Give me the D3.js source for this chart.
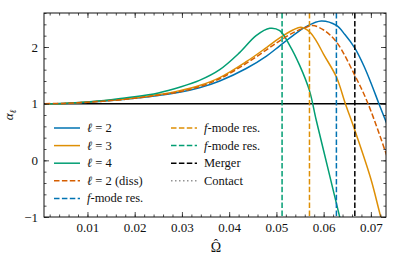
<!DOCTYPE html>
<html>
<head>
<meta charset="utf-8">
<script src="https://cdn.jsdelivr.net/npm/d3@7"></script>
<style>
  body { margin: 0; background: #fff; }
  text { font-family: "Liberation Serif", "DejaVu Serif", serif; fill: #111; }
</style>
</head>
<body>
<div class="chart"></div>
<script>
// data
var omegaL2 = [0.001, 0.005, 0.01, 0.015, 0.02, 0.025, 0.0295, 0.0337, 0.038, 0.0436, 0.0479, 0.0507, 0.0535, 0.0563, 0.0595, 0.0627, 0.0645, 0.0666, 0.0685, 0.07, 0.0717, 0.0735];
var alphaL2 = [1.0, 1.005, 1.025, 1.055, 1.095, 1.145, 1.2, 1.28, 1.4, 1.62, 1.84, 2.02, 2.2, 2.36, 2.46, 2.38, 2.22, 1.98, 1.67, 1.37, 1.0, 0.62];

var omegaL3 = [0.001, 0.005, 0.01, 0.015, 0.02, 0.025, 0.0295, 0.0337, 0.038, 0.0436, 0.0479, 0.0507, 0.0535, 0.0552, 0.057, 0.0585, 0.06, 0.0627, 0.0646, 0.0666, 0.07, 0.0721, 0.074];
var alphaL3 = [1.0, 1.005, 1.03, 1.06, 1.1, 1.16, 1.23, 1.32, 1.46, 1.74, 1.99, 2.16, 2.3, 2.35, 2.27, 2.1, 1.87, 1.47, 1.0, 0.53, -0.33, -1.0, -1.55];

var omegaL4 = [0.001, 0.005, 0.01, 0.015, 0.02, 0.025, 0.0295, 0.0337, 0.038, 0.0422, 0.0457, 0.0486, 0.0507, 0.0528, 0.0549, 0.057, 0.0584, 0.06, 0.0627, 0.0634, 0.065];
var alphaL4 = [1.0, 1.005, 1.03, 1.07, 1.12, 1.19, 1.29, 1.41, 1.6, 1.9, 2.2, 2.33, 2.29, 2.03, 1.68, 1.23, 0.72, 0.17, -0.76, -1.0, -1.55];

var omegaDiss = [0.001, 0.005, 0.01, 0.015, 0.02, 0.025, 0.0295, 0.0337, 0.038, 0.0436, 0.0479, 0.0507, 0.0535, 0.0563, 0.0577, 0.06, 0.0627, 0.0666, 0.0694, 0.0735];
var alphaDiss = [1.0, 1.005, 1.025, 1.055, 1.095, 1.15, 1.21, 1.3, 1.44, 1.71, 1.95, 2.11, 2.25, 2.35, 2.38, 2.3, 2.09, 1.5, 1.0, 0.05];

var fmodeL2 = 0.0627, fmodeL3 = 0.057, fmodeL4 = 0.0512, mergerOmega = 0.0666;

var xTicks = [0.01, 0.02, 0.03, 0.04, 0.05, 0.06, 0.07];
var yTicks = [-1, 0, 1, 2];

var svgWidth = 407, svgHeight = 255;
var margin = {top: 13, right: 21, bottom: 38, left: 44};
var width = svgWidth - margin.left - margin.right;
var height = svgHeight - margin.top - margin.bottom;

var col = {blue: "#0173B2", orange: "#DE8F05", green: "#029E73", red: "#D55E00", gray: "#949494"};

var svg = d3.select(".chart").append("svg")
  .attr("width", svgWidth).attr("height", svgHeight);

var chartGroup = svg.append("g")
  .attr("transform", `translate(${margin.left}, ${margin.top})`);

var x = d3.scaleLinear().domain([0.0008, 0.0732]).range([0, width]);
var y = d3.scaleLinear().domain([-1, 2.6]).range([height, 0]);

chartGroup.append("clipPath").attr("id", "clip")
  .append("rect").attr("width", width).attr("height", height);

var plot = chartGroup.append("g").attr("clip-path", "url(#clip)");

// horizontal line at 1
plot.append("line")
  .attr("x1", 0).attr("x2", width)
  .attr("y1", y(1)).attr("y2", y(1))
  .attr("stroke", "#000").attr("stroke-width", 1.5);

var line = d3.line().x(d => x(d[0])).y(d => y(d[1])).curve(d3.curveCatmullRom.alpha(0.5));

function series(om, al, color, dash) {
  plot.append("path")
    .datum(d3.zip(om, al))
    .attr("d", line)
    .attr("fill", "none")
    .attr("stroke", color)
    .attr("stroke-width", 1.5)
    .attr("stroke-dasharray", dash || null);
}

series(omegaL2, alphaL2, col.blue);
series(omegaL3, alphaL3, col.orange);
series(omegaL4, alphaL4, col.green);
series(omegaDiss, alphaDiss, col.red, "5.5,2.4");

// vertical markers
[[fmodeL4, col.green], [fmodeL3, col.orange], [fmodeL2, col.blue], [mergerOmega, "#000"]].forEach(function(v) {
  plot.append("line")
    .attr("x1", x(v[0])).attr("x2", x(v[0]))
    .attr("y1", 0).attr("y2", height)
    .attr("stroke", v[1]).attr("stroke-width", 1.5)
    .attr("stroke-dasharray", "5.5,2.4");
});

// axes, ticks inward on all sides
var xMinor = d3.range(0.002, 0.0732, 0.002);
var yMinor = d3.range(-1, 2.61, 0.2);

function tickAxis(axisFn, scale, vals, size, labels) {
  var a = axisFn(scale).tickValues(vals).tickSizeInner(-size).tickSizeOuter(0).tickPadding(6);
  if (!labels) a.tickFormat("");
  return a;
}

var bottomAxis = chartGroup.append("g").attr("transform", `translate(0, ${height})`);
bottomAxis.call(tickAxis(d3.axisBottom, x, xMinor, 2.5, false));
bottomAxis.append("g").call(tickAxis(d3.axisBottom, x, xTicks, 5, true).tickFormat(d3.format(".2f")));

var topAxis = chartGroup.append("g");
topAxis.call(tickAxis(d3.axisTop, x, xMinor, 2.5, false));
topAxis.append("g").call(tickAxis(d3.axisTop, x, xTicks, 5, false));

var leftAxis = chartGroup.append("g");
leftAxis.call(tickAxis(d3.axisLeft, y, yMinor, 2.5, false));
leftAxis.append("g").call(tickAxis(d3.axisLeft, y, yTicks, 5, true).tickFormat(d => d < 0 ? "\u2212" + Math.abs(d) : d));

var rightAxis = chartGroup.append("g").attr("transform", `translate(${width}, 0)`);
rightAxis.call(tickAxis(d3.axisRight, y, yMinor, 2.5, false));
rightAxis.append("g").call(tickAxis(d3.axisRight, y, yTicks, 5, false));

chartGroup.selectAll(".domain").remove();
chartGroup.selectAll(".tick line").attr("stroke", "#222").attr("stroke-width", 0.8);
chartGroup.selectAll(".tick text").attr("font-size", 13).attr("fill", "#111")
  .style("font-family", "'Liberation Serif', serif");

chartGroup.append("rect")
  .attr("width", width).attr("height", height)
  .attr("fill", "none").attr("stroke", "#111").attr("stroke-width", 1);

// axis label: Omega with a hat, one text element
var xl = svg.append("text")
  .attr("x", 216).attr("y", 251.5)
  .attr("text-anchor", "middle").attr("font-size", 14);
xl.append("tspan").attr("x", 216).text("\u03A9");
xl.append("tspan").attr("x", 216).attr("dy", -3.5).attr("font-size", 13).text("\u02C6");

var yl = svg.append("text")
  .attr("transform", `translate(13, ${margin.top + height / 2}) rotate(-90)`)
  .attr("text-anchor", "middle").attr("font-size", 13);
yl.append("tspan").style("font-style", "italic").text("\u03B1");
yl.append("tspan").attr("font-size", 9).attr("dy", 3).style("font-style", "italic").text("\u2113");

// legend
var legendItems = [
  {c: col.blue, dash: null, t: ["\u2113", " = 2"]},
  {c: col.orange, dash: null, t: ["\u2113", " = 3"]},
  {c: col.green, dash: null, t: ["\u2113", " = 4"]},
  {c: col.red, dash: "5.5,2.4", t: ["\u2113", " = 2 (diss)"]},
  {c: col.blue, dash: "5.5,2.4", t: ["f", "-mode res."]},
  {c: col.orange, dash: "5.5,2.4", t: ["f", "-mode res."]},
  {c: col.green, dash: "5.5,2.4", t: ["f", "-mode res."]},
  {c: "#000", dash: "5.5,2.4", t: ["", "Merger"]},
  {c: col.gray, dash: "1.5,2.5", t: ["", "Contact"]}
];

var legend = svg.append("g");
legendItems.forEach(function(d, i) {
  var colX = i < 5 ? 54 : 171;
  var rowY = 128 + (i < 5 ? i : i - 5) * 17.6;
  legend.append("line")
    .attr("x1", colX).attr("x2", colX + 26)
    .attr("y1", rowY).attr("y2", rowY)
    .attr("stroke", d.c).attr("stroke-width", 1.5)
    .attr("stroke-dasharray", d.dash);
  var t = legend.append("text")
    .attr("x", colX + 33).attr("y", rowY + 4)
    .attr("font-size", 12.5);
  t.append("tspan").style("font-style", "italic").text(d.t[0]);
  t.append("tspan").text(d.t[1]);
});
</script>
</body>
</html>
